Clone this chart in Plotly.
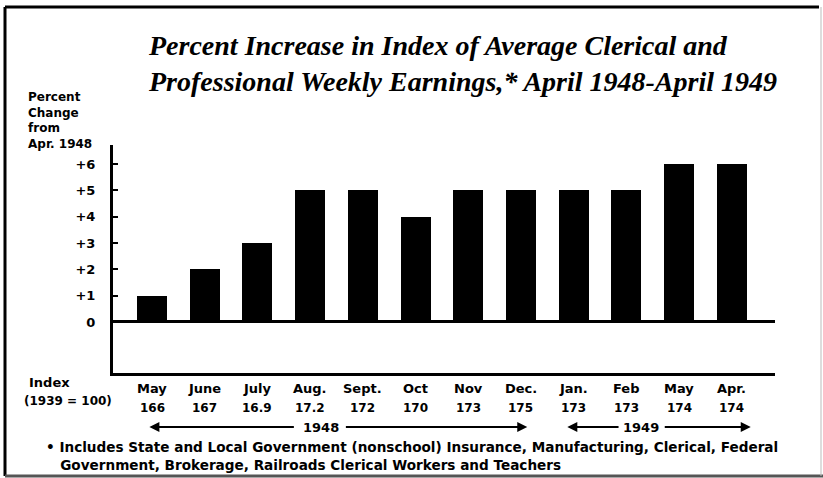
import plotly.graph_objects as go

months = ["May", "June", "July", "Aug.", "Sept.", "Oct", "Nov", "Dec.", "Jan.", "Feb", "May", "Apr."]
index_values = ["166", "167", "16.9", "17.2", "172", "170", "173", "175", "173", "173", "174", "174"]
pct_change = [1, 2, 3, 5, 5, 4, 5, 5, 5, 5, 6, 6]
y_ticks = [0, 1, 2, 3, 4, 5, 6]
y_ticklabels = ["0", "+1", "+2", "+3", "+4", "+5", "+6"]

W, H = 823, 478
ML, MR, MT, MB = 113, 48, 145, 105
PH = H - MT - MB
PW = W - ML - MR
SANS = "'DejaVu Sans', sans-serif"

x_idx = list(range(len(months)))

fig = go.Figure()
fig.add_trace(go.Bar(x=x_idx, y=pct_change, width=0.57,
                     marker=dict(color="black", line=dict(width=0)),
                     hoverinfo="skip"))

def py(p):
    return (H - MB - p) / PH

def px(p):
    return (p - ML) / PW

annotations = []
for i, (m, v) in enumerate(zip(months, index_values)):
    annotations.append(dict(x=i, y=py(388), xref="x", yref="paper", text=m, showarrow=False,
                            font=dict(family=SANS, size=13, color="black", weight="bold"),
                            xanchor="center", yanchor="middle"))
    annotations.append(dict(x=i, y=py(408), xref="x", yref="paper", text=v, showarrow=False,
                            font=dict(family=SANS, size=12, color="black", weight="bold"),
                            xanchor="center", yanchor="middle"))

annotations.append(dict(xref="paper", yref="paper", x=px(27), y=py(382),
                        text="Index", showarrow=False, xanchor="left", yanchor="middle",
                        font=dict(family=SANS, size=13, color="black", weight="bold")))
annotations.append(dict(xref="paper", yref="paper", x=px(22), y=py(401),
                        text="(1939 = 100)", showarrow=False, xanchor="left", yanchor="middle",
                        font=dict(family=SANS, size=12, color="black", weight="bold")))

annotations.append(dict(xref="paper", yref="paper", x=px(26), y=py(88),
                        text="Percent<br>Change<br>from<br>Apr. 1948", showarrow=False,
                        xanchor="left", yanchor="top", align="left",
                        font=dict(family=SANS, size=12, color="black", weight="bold")))

yr = py(427)
def arrow(x_head, x_tail):
    return dict(x=x_head, y=yr, xref="x", yref="paper", ax=x_tail, ay=0, axref="x", ayref="pixel",
                text="", showarrow=True, arrowhead=2, arrowsize=1, arrowwidth=2, arrowcolor="black")

annotations += [
    arrow(-0.05, 2.72), arrow(7.12, 3.65),
    arrow(7.88, 8.88), arrow(11.36, 9.70),
]
annotations.append(dict(x=3.2, y=yr, xref="x", yref="paper", text="1948", showarrow=False,
                        xanchor="center", yanchor="middle",
                        font=dict(family=SANS, size=13, color="black", weight="bold")))
annotations.append(dict(x=9.27, y=yr, xref="x", yref="paper", text="1949", showarrow=False,
                        xanchor="center", yanchor="middle",
                        font=dict(family=SANS, size=13, color="black", weight="bold")))

annotations.append(dict(xref="paper", yref="paper", x=px(44), y=py(456),
                        text="\u2022 Includes State and Local Government (nonschool) Insurance, Manufacturing, Clerical, Federal<br>"
                             "&nbsp;&nbsp;&nbsp;Government, Brokerage, Railroads Clerical Workers and Teachers",
                        showarrow=False, xanchor="left", yanchor="middle", align="left",
                        font=dict(family=SANS, size=13.6, color="black", weight="bold")))

annotations.append(dict(xref="paper", yref="paper", x=px(462), y=py(64),
                        text="Percent Increase in Index of Average Clerical and<br>"
                             "Professional Weekly Earnings,* April 1948-April 1949",
                        showarrow=False, xanchor="center", yanchor="middle", align="left",
                        font=dict(family="'Liberation Serif', serif", size=28, color="black",
                                  weight="bold", style="italic")))

shapes = [
    dict(type="line", xref="paper", yref="paper", x0=px(5), x1=px(5),
         y0=py(7), y1=py(476), line=dict(color="black", width=3)),
    dict(type="line", xref="paper", yref="paper", x0=px(5), x1=px(819),
         y0=py(7), y1=py(7), line=dict(color="black", width=3)),
    dict(type="line", xref="paper", yref="paper", x0=px(5), x1=px(823),
         y0=py(476), y1=py(476), line=dict(color="#555", width=3)),
    dict(type="line", xref="paper", yref="paper", x0=px(821), x1=px(821),
         y0=py(7), y1=py(476), line=dict(color="#bbb", width=1)),
]

fig.update_layout(
    width=W, height=H,
    margin=dict(l=ML, r=MR, t=MT, b=MB),
    paper_bgcolor="white", plot_bgcolor="white",
    showlegend=False,
    bargap=0,
    annotations=annotations,
    shapes=shapes,
    xaxis=dict(range=[-0.74, 11.82], showticklabels=False, ticks="", showgrid=False,
               zeroline=False, showline=True, linecolor="black", linewidth=3, fixedrange=True),
    yaxis=dict(range=[-1.94, 6.73], tickvals=y_ticks, ticktext=y_ticklabels,
               ticks="inside", ticklen=5, tickwidth=2, tickcolor="black",
               showgrid=False, zeroline=True, zerolinecolor="black", zerolinewidth=3,
               showline=True, linecolor="black", linewidth=3, ticklabelstandoff=12,
               tickfont=dict(family=SANS, size=13, color="black", weight="bold"), fixedrange=True),
)

fig.write_html("out.html", config={"displayModeBar": False},
               post_script="document.body.style.margin='0';document.body.style.overflow='hidden';")
